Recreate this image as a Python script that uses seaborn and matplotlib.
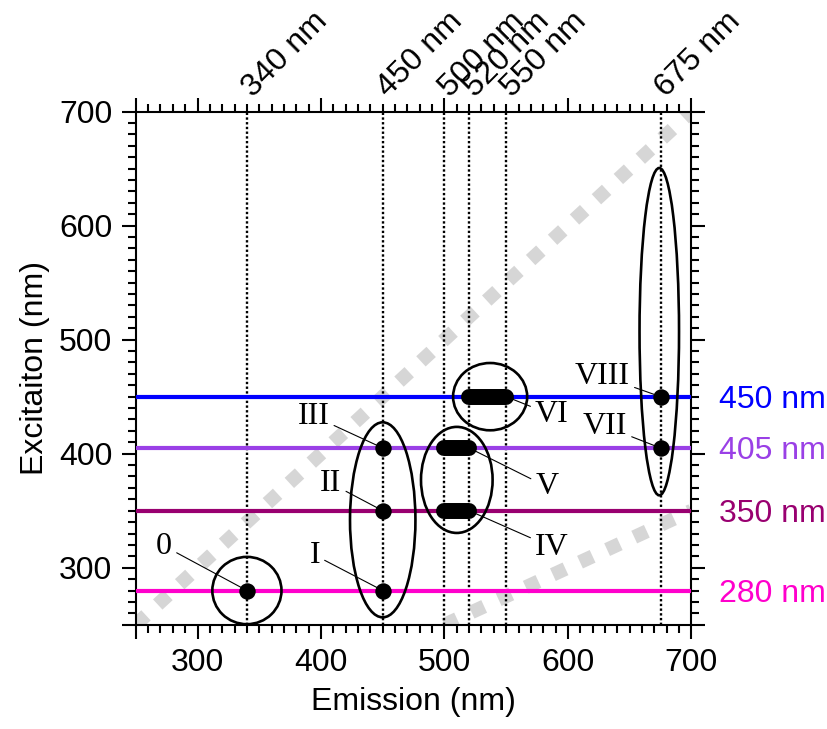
import numpy as np
import pandas as pd
import seaborn as sns
import matplotlib.pyplot as plt
from matplotlib.patches import Ellipse
from matplotlib.ticker import MultipleLocator, FixedLocator

# emission lines (top axis, dotted verticals)
em_lines = [340, 450, 500, 520, 550, 675]
em_labels = ['340 nm', '450 nm', '500 nm', '520 nm', '550 nm', '675 nm']

# excitation lines (right axis, coloured horizontals)
ex_lines = [450, 405, 350, 280]
ex_labels = ['450 nm', '405 nm', '350 nm', '280 nm']
ex_colors = ['#0000ff', '#9a40e6', '#990070', '#ff00cc']

# single spots
spot_em = [340, 450, 450, 450, 675, 675]
spot_ex = [280, 280, 350, 405, 405, 450]

# band spots (emission range at one excitation)
band_start = [500, 500, 520]
band_end = [520, 520, 550]
band_ex = [350, 405, 450]

# group ellipses: centre, width, height (nm)
ell_x = [340, 450, 510, 537, 674]
ell_y = [280, 342, 377, 450, 507]
ell_w = [56, 53, 58, 60, 32]
ell_h = [59, 171, 93, 59, 287]

# roman labels: text, text position, point the leader goes to
lab_text = ['0', 'I', 'II', 'III', 'IV', 'V', 'VI', 'VII', 'VIII']
lab_x = [273, 395, 408, 394, 587, 583, 587, 630, 628]
lab_y = [319, 311, 374, 433, 318, 371, 434, 424, 468]
lab_px = [340, 450, 450, 450, 520, 520, 550, 675, 675]
lab_py = [280, 280, 350, 405, 350, 405, 450, 405, 450]

sns.set_theme(style='ticks')
plt.rcParams['font.family'] = ['Liberation Sans', 'DejaVu Sans']
plt.rcParams['text.color'] = 'black'
plt.rcParams['axes.labelcolor'] = 'black'
plt.rcParams['xtick.color'] = 'black'
plt.rcParams['ytick.color'] = 'black'

fig = plt.figure(figsize=(8.28, 7.29), dpi=100)
ax = fig.add_axes([0.164, 0.143, 0.671, 0.704])
ax.set_xlim(250, 700)
ax.set_ylim(250, 700)

# diagonals (first and second order scatter)
diag = np.array([250, 700])
ax.plot(diag, diag, color='#d6d6d6', lw=10, dashes=(1, 1.15),
        dash_capstyle='butt', zorder=1)
diag2 = np.array([500, 700])
ax.plot(diag2, diag2 / 2, color='#d6d6d6', lw=10, dashes=(1, 1.15),
        dash_capstyle='butt', zorder=1)

for x in em_lines:
    ax.axvline(x, color='black', lw=1.7, ls=(0, (1, 1)), zorder=2)
for y, c in zip(ex_lines, ex_colors):
    ax.axhline(y, color=c, lw=3, zorder=3)

for x0, x1, y in zip(band_start, band_end, band_ex):
    ax.plot([x0, x1], [y, y], color='black', lw=11.5,
            solid_capstyle='round', zorder=5)

spots = pd.DataFrame({'em': spot_em, 'ex': spot_ex})
sns.scatterplot(data=spots, x='em', y='ex', color='black', s=140,
                edgecolor='black', linewidth=0, ax=ax, zorder=5)

for cx, cy, w, h in zip(ell_x, ell_y, ell_w, ell_h):
    ax.add_patch(Ellipse((cx, cy), w, h, fill=False, ec='black',
                         lw=1.9, zorder=6))

for t, tx, ty, px, py in zip(lab_text, lab_x, lab_y, lab_px, lab_py):
    ax.annotate(t, xy=(px, py), xytext=(tx, ty), ha='center', va='center',
                fontsize=23, family=['Liberation Serif', 'DejaVu Serif'],
                arrowprops=dict(arrowstyle='-', lw=0.8, color='black',
                                shrinkA=1, shrinkB=0), zorder=7)

# axes, ticks
for s in ax.spines.values():
    s.set_linewidth(1.5)
    s.set_color('black')
major = [250, 300, 400, 500, 600, 700]
major_lab = ['', '300', '400', '500', '600', '700']
ax.xaxis.set_major_locator(FixedLocator(major))
ax.set_xticklabels(major_lab)
ax.yaxis.set_major_locator(FixedLocator(major))
ax.set_yticklabels(major_lab)
ax.xaxis.set_minor_locator(MultipleLocator(10))
ax.yaxis.set_minor_locator(MultipleLocator(10))
ax.tick_params(which='both', direction='out', top=True, right=True,
               width=1.5, color='black', labelsize=23, labelcolor='black')
ax.tick_params(which='major', length=10, pad=7)
ax.tick_params(which='minor', length=5.5)
ax.set_xlabel('Emission (nm)', fontsize=23, labelpad=6)
ax.set_ylabel('Excitaiton (nm)', fontsize=23, labelpad=6)
ax.grid(False)

top = ax.secondary_xaxis('top')
top.set_xticks(em_lines)
top.set_xticklabels(em_labels, rotation=45, ha='left', va='center',
                    rotation_mode='anchor', fontsize=23, color='black')
top.tick_params(length=0, pad=14, labelcolor='black')
top.spines['top'].set_visible(False)

right = ax.secondary_yaxis('right')
right.set_yticks(ex_lines)
right.set_yticklabels(ex_labels, fontsize=23)
for lab, c in zip(right.get_yticklabels(), ex_colors):
    lab.set_color(c)
right.tick_params(length=0, pad=20)
right.spines['right'].set_visible(False)

fig.savefig('out.png', dpi=100)
